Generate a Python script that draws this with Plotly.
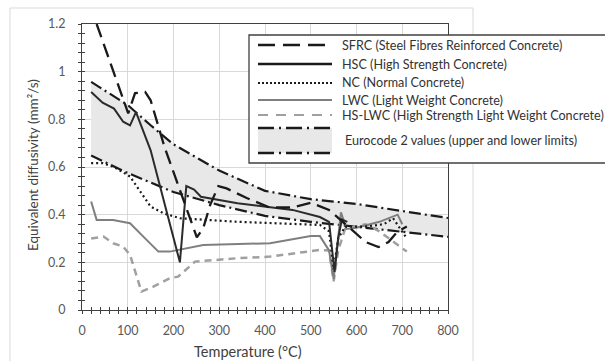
import plotly.graph_objects as go

# ---------------- data ----------------
ec_t = [20, 100, 150, 200, 300, 400, 500, 600, 700, 800]
ec_upper = [0.957, 0.86, 0.775, 0.695, 0.585, 0.50, 0.465, 0.445, 0.415, 0.386]
ec_lower = [0.648, 0.575, 0.535, 0.495, 0.44, 0.395, 0.37, 0.35, 0.33, 0.307]

t_sfrc = [32, 101, 116, 138, 150, 181, 251, 265, 280, 298, 316, 360, 410, 460, 500, 540, 570, 600, 620, 648, 670, 690, 710]
v_sfrc = [1.2, 0.825, 0.91, 0.915, 0.88, 0.68, 0.305, 0.343, 0.44, 0.52, 0.51, 0.47, 0.43, 0.43, 0.45, 0.42, 0.37, 0.32, 0.285, 0.264, 0.285, 0.33, 0.35]

t_hsc = [20, 45, 70, 90, 105, 118, 150, 180, 214, 228, 245, 260, 340, 460, 520, 540, 552, 560, 568, 580]
v_hsc = [0.915, 0.87, 0.845, 0.79, 0.775, 0.83, 0.67, 0.45, 0.2, 0.52, 0.505, 0.475, 0.448, 0.42, 0.39, 0.37, 0.16, 0.3, 0.38, 0.37]

t_nc = [20, 45, 70, 105, 130, 150, 178, 214, 340, 520, 540, 550, 560, 575, 620, 660, 680, 695, 710]
v_nc = [0.616, 0.616, 0.60, 0.56, 0.49, 0.434, 0.406, 0.385, 0.37, 0.357, 0.33, 0.17, 0.3, 0.35, 0.35, 0.36, 0.385, 0.34, 0.30]

t_lwc = [20, 32, 68, 105, 134, 167, 192, 265, 411, 500, 520, 540, 550, 558, 566, 578, 600, 650, 690, 700]
v_lwc = [0.455, 0.378, 0.378, 0.364, 0.308, 0.245, 0.245, 0.273, 0.28, 0.31, 0.31, 0.25, 0.13, 0.28, 0.41, 0.34, 0.345, 0.37, 0.40, 0.36]

t_hslwc = [20, 47, 68, 90, 105, 130, 156, 192, 210, 247, 338, 411, 520, 540, 550, 560, 575, 620, 650, 710]
v_hslwc = [0.30, 0.308, 0.28, 0.266, 0.231, 0.077, 0.098, 0.133, 0.14, 0.203, 0.217, 0.224, 0.252, 0.25, 0.12, 0.25, 0.34, 0.36, 0.33, 0.245]

legend_labels = [
    "SFRC (Steel Fibres Reinforced Concrete)",
    "HSC (High Strength Concrete)",
    "NC (Normal Concrete)",
    "LWC (Light Weight Concrete)",
    "HS-LWC (High Strength Light Weight Concrete)",
    "Eurocode 2 values (upper and lower limits)",
]
x_title = "Temperature (°C)"
y_title = "Equivalent diffusivity (mm²/s)"

# ---------------- geometry (pixels) ----------------
W, H = 605, 361
L, R, T, B = 82, 448, 24, 310
FONT = "Lato"


def px(x):
    return (x - L) / (R - L)


def py(y):
    return (B - y) / (B - T)


EC_DASH = "12px,4px,2px,4px"
SF_DASH = "14px,7px"
HL_DASH = "7px,5px"
C_BLACK = "#1a1a1a"
C_HSC = "#2b2b2b"
C_GRAY = "#7f7f7f"
C_LGRAY = "#a0a0a0"

fig = go.Figure()

fig.add_trace(go.Scatter(x=ec_t, y=ec_lower, mode="lines",
                         line=dict(color=C_BLACK, width=2.2, dash=EC_DASH)))
fig.add_trace(go.Scatter(x=ec_t, y=ec_upper, mode="lines", fill="tonexty",
                         fillcolor="#e8e8e8",
                         line=dict(color=C_BLACK, width=2.2, dash=EC_DASH)))
fig.add_trace(go.Scatter(x=t_hslwc, y=v_hslwc, mode="lines",
                         line=dict(color=C_LGRAY, width=2.5, dash=HL_DASH)))
fig.add_trace(go.Scatter(x=t_lwc, y=v_lwc, mode="lines",
                         line=dict(color=C_GRAY, width=2)))
fig.add_trace(go.Scatter(x=t_nc, y=v_nc, mode="lines",
                         line=dict(color=C_BLACK, width=2.2, dash="2px,3px")))
fig.add_trace(go.Scatter(x=t_hsc, y=v_hsc, mode="lines",
                         line=dict(color=C_HSC, width=2)))
fig.add_trace(go.Scatter(x=t_sfrc, y=v_sfrc, mode="lines",
                         line=dict(color=C_BLACK, width=2.3, dash=SF_DASH)))
# helper trace for the overlay axes (inner half of crossing ticks)
fig.add_trace(go.Scatter(x=[None], y=[None], xaxis="x2", yaxis="y2",
                         mode="lines", hoverinfo="skip"))

axis_common = dict(showline=True, linecolor="#404040", linewidth=1,
                   ticks="outside", ticklen=3, tickcolor="#404040",
                   tickfont=dict(family=FONT, size=12.5, color="#595959"),
                   showgrid=True, gridcolor="#d9d9d9", gridwidth=1,
                   zeroline=False, mirror=True)

fig.update_layout(
    width=W, height=H,
    margin=dict(l=L, r=W - R, t=T, b=H - B),
    paper_bgcolor="white", plot_bgcolor="white",
    showlegend=False,
    xaxis=dict(range=[0, 800], dtick=100, tick0=0,
               minor=dict(dtick=20, ticks="outside", ticklen=3, tickcolor="#404040", showgrid=False),
               ticklabelstandoff=6, **axis_common),
    yaxis=dict(range=[0, 1.2], dtick=0.2, tick0=0,
               minor=dict(dtick=0.04, ticks="outside", ticklen=3, tickcolor="#404040", showgrid=False),
               ticklabelstandoff=10, **axis_common),
    xaxis2=dict(overlaying="x", anchor="y2", side="bottom", range=[0, 800], dtick=100,
                ticks="inside", ticklen=3, tickcolor="#404040", showticklabels=False,
                showgrid=False, showline=False, zeroline=False,
                minor=dict(dtick=20, ticks="inside", ticklen=3, tickcolor="#404040", showgrid=False)),
    yaxis2=dict(overlaying="y", anchor="x2", side="left", range=[0, 1.2], dtick=0.2,
                ticks="inside", ticklen=3, tickcolor="#404040", showticklabels=False,
                showgrid=False, showline=False, zeroline=False,
                minor=dict(dtick=0.04, ticks="inside", ticklen=3, tickcolor="#404040", showgrid=False)),
)

shapes = []
annotations = []

# chart frame (light)
fr = "#d9d9d9"
shapes.append(dict(type="line", xref="paper", yref="paper", x0=px(10), x1=px(473), y0=py(8), y1=py(8), line=dict(color=fr, width=1)))
shapes.append(dict(type="line", xref="paper", yref="paper", x0=px(10), x1=px(10), y0=py(8), y1=py(370), line=dict(color=fr, width=1)))
shapes.append(dict(type="line", xref="paper", yref="paper", x0=px(473), x1=px(473), y0=py(8), y1=py(370), line=dict(color=fr, width=1)))

# legend box
shapes.append(dict(type="rect", xref="paper", yref="paper", x0=px(249), x1=px(640), y0=py(163), y1=py(35),
                   fillcolor="white", line=dict(color="#404040", width=1.3), layer="above"))

sx0, sx1, tx = 258, 332, 340
rows = [45, 64, 83, 100, 115]
styles = [
    dict(color=C_BLACK, width=2.5, dash="17px,8px"),
    dict(color=C_BLACK, width=2.5),
    dict(color=C_BLACK, width=2, dash="2px,2px"),
    dict(color=C_GRAY, width=1.8),
    dict(color=C_LGRAY, width=2, dash="10px,8px"),
]
for yy, st in zip(rows, styles):
    shapes.append(dict(type="line", xref="paper", yref="paper", x0=px(sx0), x1=px(sx1), y0=py(yy), y1=py(yy),
                       line=st, layer="above"))
# Eurocode symbol
shapes.append(dict(type="rect", xref="paper", yref="paper", x0=px(sx0), x1=px(sx1), y0=py(153), y1=py(128),
                   fillcolor="#e8e8e8", line=dict(width=0), layer="above"))
for yy in (128, 153):
    shapes.append(dict(type="line", xref="paper", yref="paper", x0=px(sx0), x1=px(sx1), y0=py(yy), y1=py(yy),
                       line=dict(color=C_BLACK, width=2.5, dash="16px,5px,2px,5px"), layer="above"))

text_rows = [45, 64, 83, 100, 115, 140]
for i, (lab, yy) in enumerate(zip(legend_labels, text_rows)):
    annotations.append(dict(xref="paper", yref="paper", x=px(tx if i < 5 else 343), y=py(yy), text=lab,
                            showarrow=False, xanchor="left", yanchor="middle",
                            font=dict(family=FONT, size=12.6, color="#333333")))

# axis titles
annotations.append(dict(xref="paper", yref="paper", x=px(248), y=py(351), text=x_title, showarrow=False,
                        xanchor="center", yanchor="middle", font=dict(family=FONT, size=14.5, color="#404040")))
annotations.append(dict(xref="paper", yref="paper", x=px(33), y=py(165), text=y_title, showarrow=False, textangle=-90,
                        xanchor="center", yanchor="middle", font=dict(family=FONT, size=13.5, color="#404040")))

fig.update_layout(shapes=shapes, annotations=annotations)
fig.write_html("out.html")
